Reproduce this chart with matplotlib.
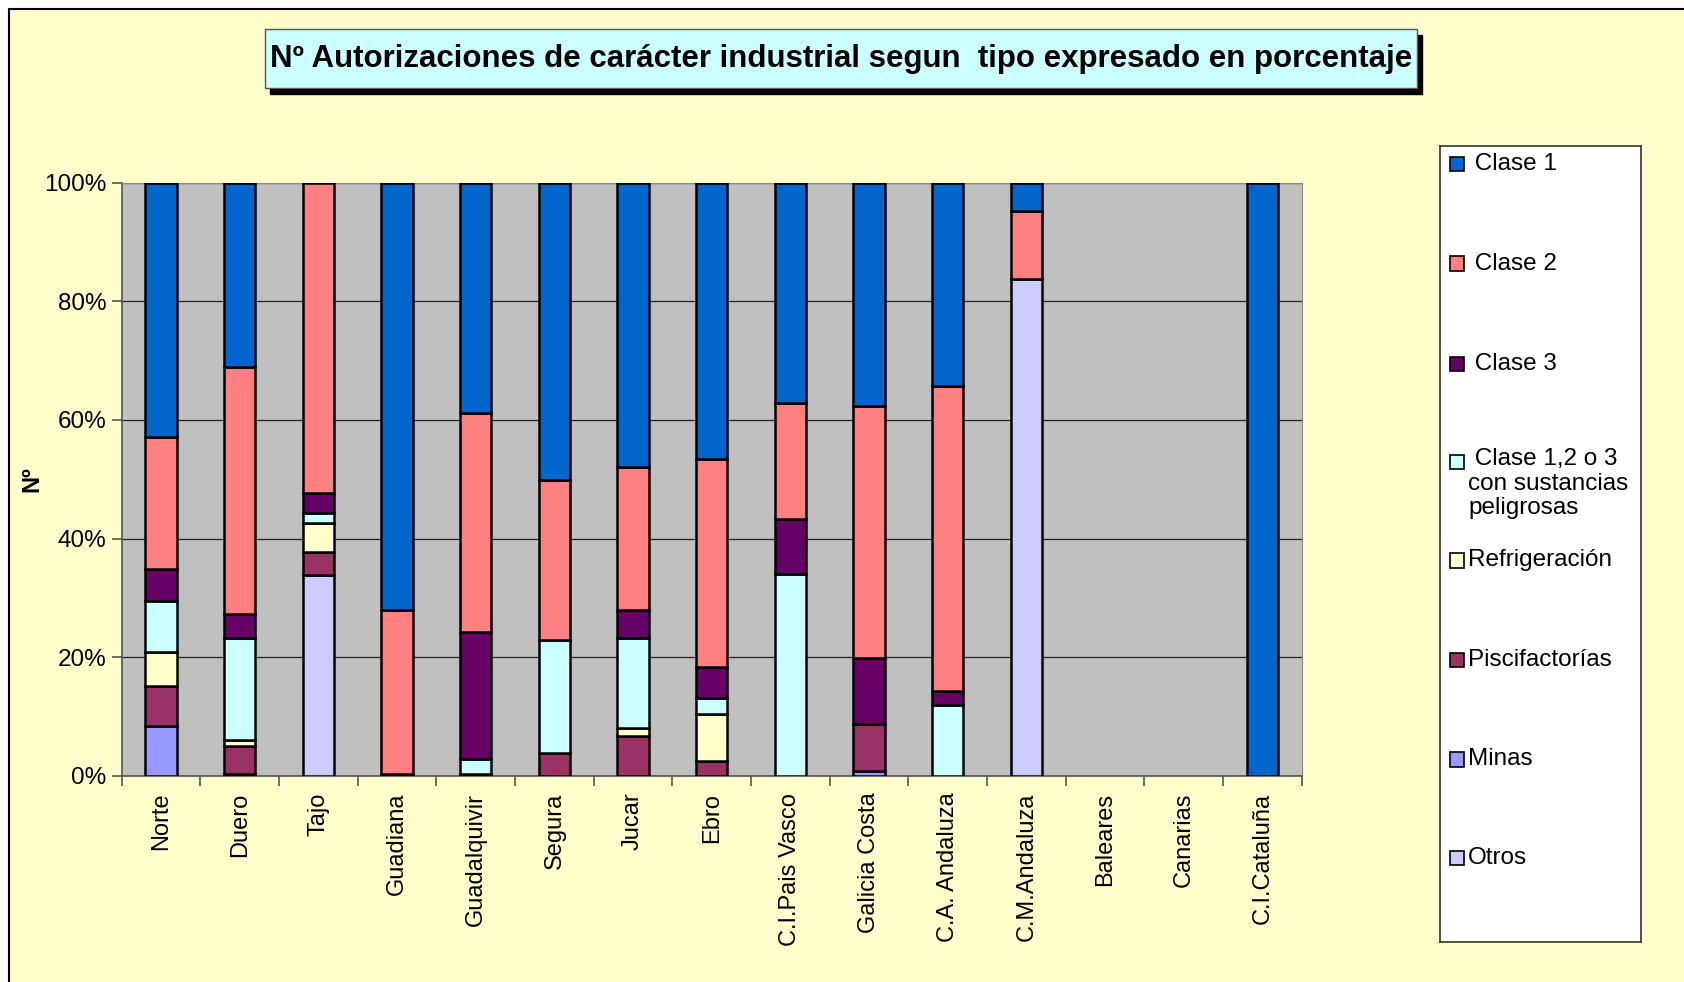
import numpy as np
import matplotlib
matplotlib.use("Agg")
import matplotlib.pyplot as plt
from matplotlib.patches import Rectangle
from matplotlib.ticker import PercentFormatter

plt.rcParams['font.family'] = ['Liberation Sans', 'DejaVu Sans']

cuencas = ['Norte', 'Duero', 'Tajo', 'Guadiana', 'Guadalquivir', 'Segura', 'Jucar',
           'Ebro', 'C.I.Pais Vasco', 'Galicia Costa', 'C.A. Andaluza', 'C.M.Andaluza',
           'Baleares', 'Canarias', 'C.I.Cataluña']

# percentages per category
otros      = [0.0, 0.0, 33.8, 0.0, 0.0, 0.0, 0.0, 0.0, 0.0, 0.0, 0.0, 83.8, 0, 0, 0]
minas      = [8.4, 0.3, 0.0, 0.0, 0.0, 0.0, 0.0, 0.0, 0.0, 0.9, 0.0, 0.0, 0, 0, 0]
piscif     = [6.7, 4.8, 3.9, 0.3, 0.3, 3.9, 6.8, 2.5, 0.0, 7.9, 0.0, 0.0, 0, 0, 0]
refrig     = [5.8, 1.0, 5.0, 0.0, 0.0, 0.0, 1.3, 8.0, 0.0, 0.0, 0.0, 0.0, 0, 0, 0]
clase123   = [8.6, 17.2, 1.6, 0.0, 2.5, 19.1, 15.2, 2.6, 34.1, 0.0, 12.0, 0.0, 0, 0, 0]
clase3     = [5.3, 4.0, 3.4, 0.0, 21.5, 0.0, 4.6, 5.3, 9.2, 11.1, 2.4, 0.0, 0, 0, 0]
clase2     = [22.3, 41.7, 52.3, 27.6, 36.8, 26.9, 24.1, 35.1, 19.5, 42.5, 51.3, 11.5, 0, 0, 0]
clase1     = [42.9, 31.0, 0.0, 72.1, 38.9, 50.1, 48.0, 46.5, 37.2, 37.6, 34.3, 4.7, 0, 0, 100]

series = [
    ('Otros', otros, '#CCCCFF'),
    ('Minas', minas, '#9999FF'),
    ('Piscifactorías', piscif, '#993366'),
    ('Refrigeración', refrig, '#FFFFCC'),
    (' Clase 1,2 o 3\ncon sustancias\npeligrosas', clase123, '#CCFFFF'),
    (' Clase 3', clase3, '#660066'),
    (' Clase 2', clase2, '#FF8080'),
    (' Clase 1', clase1, '#0066CC'),
]

fig = plt.figure(figsize=(16.84, 9.82), dpi=100)
fig.patch.set_facecolor('white')
fig.patches.append(Rectangle((0.0053, -0.01), 1.0, 1.0 - 0.0092 + 0.01, transform=fig.transFigure,
                             facecolor='#FFFFCC', edgecolor='black', linewidth=1.5, zorder=-10))

ax = fig.add_axes([0.0723, 0.2098, 0.7007, 0.6042])
ax.set_facecolor('#C0C0C0')
x = np.arange(len(cuencas))
bottom = np.zeros(len(cuencas))
for name, vals, col in series:
    vals = np.array(vals, dtype=float)
    m = vals > 0
    ax.bar(x[m], vals[m], 0.4, bottom=bottom[m], color=col, edgecolor='black', linewidth=1.8, zorder=3)
    bottom += vals

ax.set_xlim(-0.5, len(cuencas) - 0.5)
ax.set_ylim(0, 100)
ax.set_yticks(np.arange(0, 101, 20))
ax.yaxis.set_major_formatter(PercentFormatter(decimals=0))
ax.yaxis.grid(True, color='#222222', linewidth=0.9, zorder=0)
ax.set_axisbelow(True)
ax.set_xticks(x)
ax.set_xticklabels(cuencas, rotation=90, fontsize=17)
ax.set_xticks(np.arange(-0.5, len(cuencas)), minor=True)
ax.tick_params(axis='x', which='major', length=0, pad=12)
ax.tick_params(axis='x', which='minor', length=7, color='#555555', width=1.2)
ax.tick_params(axis='y', length=7, color='#555555', width=1.2, labelsize=17.5, pad=4)
for s in ['top', 'right']:
    ax.spines[s].set_color('#888888')
for s in ['left', 'bottom']:
    ax.spines[s].set_color('#555555')
    ax.spines[s].set_linewidth(1.2)
ax.set_ylabel('Nº', fontsize=17, fontweight='bold')
ax.yaxis.set_label_coords(-0.066, 0.5)

# title box with shadow
fig.patches.append(Rectangle((0.1603, 0.0 + 1 - 0.0957), 0.6841, 0.0601, transform=fig.transFigure,
                             facecolor='black', edgecolor='black', zorder=1))
fig.patches.append(Rectangle((0.1574, 1 - 0.0896), 0.6841, 0.0601, transform=fig.transFigure,
                             facecolor='#CCFFFF', edgecolor='#555555', linewidth=1, zorder=2))
fig.text(0.4995, 1 - 0.0596, 'Nº Autorizaciones de carácter industrial segun  tipo expresado en porcentaje',
         ha='center', va='center', fontsize=22.5, fontweight='bold', zorder=3)

# legend box
lax = fig.add_axes([0.8551, 0.0411, 0.1194, 0.8105])
lax.set_xlim(0, 1)
lax.set_ylim(0, 1)
lax.set_xticks([])
lax.set_yticks([])
lax.set_facecolor('white')
for s in lax.spines.values():
    s.set_color('#333333')
    s.set_linewidth(1.2)
ys = [0.977, 0.852, 0.726, 0.603, 0.479, 0.354, 0.229, 0.105]
for (name, vals, col), yy in zip(series[::-1], ys):
    lax.add_patch(Rectangle((0.05, yy - 0.009), 0.07, 0.018, facecolor=col,
                            edgecolor='black', linewidth=1.2, transform=lax.transAxes))
    if '\n' in name:
        lax.text(0.14, yy + 0.017, name, fontsize=17.5, va='top', ha='left',
                 transform=lax.transAxes, linespacing=1.15)
    else:
        lax.text(0.14, yy, name, fontsize=17.5, va='center', ha='left', transform=lax.transAxes)

fig.savefig('out.png', dpi=100, facecolor=fig.get_facecolor())
